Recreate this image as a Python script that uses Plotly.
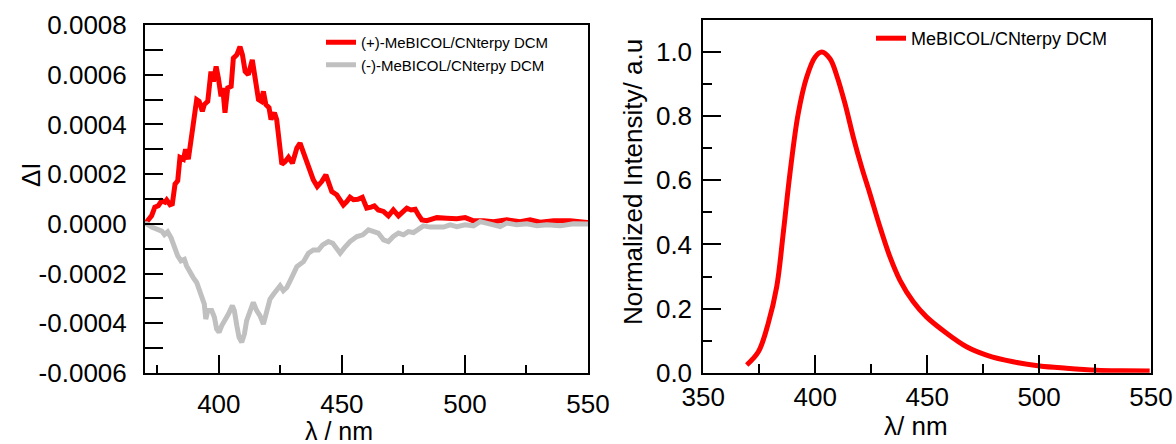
import plotly.graph_objects as go

# ---------------- data ----------------
# Left: CPL (Delta I) spectra, wavelength in nm, values in units of 1e-4
cpl_plus_wl = [370.0, 370.7, 372.7, 374.0, 375.4, 376.8, 378.1, 378.8, 380.2, 381.1, 382.2, 383.3,
               384.2, 385.6, 386.5, 387.6, 388.3, 389.6, 391.0, 392.0, 393.3, 394.1, 395.5, 396.8,
               397.8, 398.9, 399.8, 400.9, 401.6, 402.5, 403.6, 405.0, 405.9, 407.3, 408.6, 409.6,
               410.7, 412.0, 413.6, 414.7, 416.1, 417.2, 418.1, 419.1, 420.4, 421.2, 422.6, 423.5,
               424.5, 425.6, 426.9, 428.3, 429.9, 431.7, 433.0, 434.4, 435.7, 437.1, 438.4, 440.0,
               441.8, 443.5, 444.8, 445.9, 447.9, 449.3, 450.6, 452.0, 453.3, 454.7, 456.5, 458.3,
               460.1, 461.9, 463.2, 464.8, 466.9, 468.9, 470.9, 473.0, 474.6, 476.4, 478.1, 479.8,
               481.1, 482.5, 484.5, 486.6, 488.6, 492.6, 496.7, 500.1, 503.5, 507.5, 511.6, 517.0,
               522.4, 526.5, 530.6, 536.0, 542.8, 549.6, 550.0]
cpl_plus_e4 = [0.00, 0.07, 0.33, 0.67, 0.73, 0.93, 0.87, 0.96, 0.77, 0.80, 1.60, 1.73,
               2.67, 2.60, 3.00, 2.60, 3.20, 4.00, 5.00, 4.93, 4.53, 4.80, 4.93, 6.13,
               5.73, 6.33, 5.87, 5.13, 5.47, 4.47, 5.47, 5.53, 6.67, 6.80, 7.13, 6.80,
               6.13, 6.00, 6.60, 5.87, 5.00, 4.93, 5.33, 4.80, 4.67, 4.20, 4.47, 4.20,
               3.33, 2.40, 2.50, 2.68, 2.44, 3.05, 3.25, 2.84, 2.51, 2.17, 1.77, 1.50,
               1.70, 1.97, 1.64, 1.30, 1.17, 0.97, 0.76, 0.90, 1.07, 0.97, 0.99, 1.07,
               0.63, 0.67, 0.72, 0.56, 0.50, 0.32, 0.56, 0.32, 0.45, 0.63, 0.56, 0.59,
               0.36, 0.16, 0.13, 0.19, 0.25, 0.23, 0.21, 0.25, 0.12, 0.13, 0.09, 0.16,
               0.09, 0.16, 0.07, 0.12, 0.12, 0.05, 0.05]

cpl_minus_wl = [370.0, 370.7, 372.7, 374.7, 376.8, 377.9, 379.2, 380.6, 381.9, 383.3, 384.6, 386.0,
                386.9, 388.3, 389.6, 391.0, 392.0, 393.0, 394.1, 394.7, 395.5, 397.1, 398.2, 399.1,
                400.1, 401.2, 402.5, 403.9, 405.5, 406.3, 407.3, 408.2, 409.3, 410.4, 411.3, 412.7,
                414.0, 415.4, 416.7, 418.1, 419.5, 420.8, 422.2, 423.5, 424.9, 426.2, 427.6, 428.9,
                430.3, 431.7, 434.4, 436.4, 438.4, 440.5, 442.2, 444.5, 446.3, 448.2, 449.3, 450.9,
                453.3, 456.1, 458.5, 460.8, 462.8, 464.8, 466.9, 468.9, 470.9, 473.0, 475.0, 477.0,
                479.1, 481.1, 483.1, 485.8, 488.6, 491.3, 494.0, 496.7, 500.1, 503.5, 506.2, 508.9,
                511.6, 514.3, 517.0, 521.1, 525.2, 529.3, 533.3, 538.7, 544.1, 549.6, 550.0]
cpl_minus_e4 = [0.00, 0.00, -0.13, -0.23, -0.29, -0.43, -0.32, -0.56, -0.96, -1.29, -1.49, -1.43,
                -1.69, -1.96, -2.16, -2.36, -2.63, -2.83, -3.23, -3.83, -3.49, -3.49, -3.76, -4.23,
                -4.36, -4.09, -3.89, -3.63, -3.29, -3.49, -4.09, -4.56, -4.76, -4.43, -3.89, -3.56,
                -3.16, -3.49, -3.69, -4.03, -3.56, -3.03, -2.83, -2.63, -2.49, -2.69, -2.56, -2.30,
                -2.05, -1.72, -1.52, -1.18, -1.05, -1.05, -0.85, -0.71, -0.78, -1.05, -1.18, -0.98,
                -0.71, -0.51, -0.44, -0.24, -0.31, -0.37, -0.64, -0.71, -0.51, -0.37, -0.44, -0.31,
                -0.35, -0.24, -0.08, -0.13, -0.11, -0.13, -0.04, -0.11, -0.04, -0.08, 0.09, 0.00,
                -0.04, -0.11, 0.03, -0.04, 0.00, -0.08, -0.04, -0.08, 0.00, -0.01, -0.01]

# Right: normalized emission spectrum
pl_wl = [369.4, 374.6, 379.0, 382.8, 385.7, 388.7, 392.4, 396.2, 399.9, 402.9, 406.6, 409.6,
         413.3, 417.0, 420.7, 424.4, 428.9, 433.4, 437.8, 443.8, 449.7, 458.7, 467.6, 476.5,
         488.4, 500.3, 512.2, 525.6, 537.5, 549.4]
pl_int = [0.024, 0.065, 0.154, 0.268, 0.434, 0.621, 0.808, 0.922, 0.984, 1.000, 0.979, 0.927,
          0.839, 0.735, 0.642, 0.559, 0.455, 0.361, 0.289, 0.221, 0.174, 0.123, 0.081, 0.055,
          0.034, 0.021, 0.014, 0.008, 0.006, 0.005]

left_ytick_vals = [-0.0006, -0.0005, -0.0004, -0.0003, -0.0002, -0.0001, 0.0, 0.0001, 0.0002,
                   0.0003, 0.0004, 0.0005, 0.0006, 0.0007, 0.0008]
left_ytick_text = ["-0.0006", "", "-0.0004", "", "-0.0002", "", "0.0000", "", "0.0002", "",
                   "0.0004", "", "0.0006", "", "0.0008"]

plus_name = "(+)-MeBICOL/CNterpy DCM"
minus_name = "(-)-MeBICOL/CNterpy DCM"
pl_name = "MeBICOL/CNterpy DCM"

# ---------------- figure ----------------
W, H = 1176, 444
FONT = "Liberation Sans, Arial, sans-serif"
RED = "#ff0000"
GRAY = "#c0c0c0"

fig = go.Figure()
fig.add_trace(go.Scatter(x=cpl_plus_wl, y=[v * 1e-4 for v in cpl_plus_e4], mode="lines",
                         name=plus_name, line=dict(color=RED, width=5),
                         xaxis="x", yaxis="y", legend="legend"))
fig.add_trace(go.Scatter(x=cpl_minus_wl, y=[v * 1e-4 for v in cpl_minus_e4], mode="lines",
                         name=minus_name, line=dict(color=GRAY, width=5),
                         xaxis="x", yaxis="y", legend="legend"))
fig.add_trace(go.Scatter(x=pl_wl, y=pl_int, mode="lines", name=pl_name,
                         line=dict(color=RED, width=5, shape="spline"),
                         xaxis="x2", yaxis="y2", legend="legend2"))

axis_common = dict(showline=True, linecolor="black", linewidth=2, mirror=True,
                   ticks="inside", tickcolor="black", tickwidth=2, showgrid=False,
                   zeroline=False, automargin=False,
                   tickfont=dict(family=FONT, size=26, color="black"))

L_x0, L_x1 = 145 / W, 588 / W
L_y0, L_y1 = 1 - 373 / H, 1 - 25 / H
R_x0, R_x1 = 703.3 / W, 1151 / W
R_y0, R_y1 = 1 - 372.7 / H, 1 - 20 / H

fig.update_layout(
    width=W, height=H,
    margin=dict(l=0, r=0, t=0, b=0),
    paper_bgcolor="white", plot_bgcolor="white",
    template="none",
    font=dict(family=FONT, color="black"),
    xaxis=dict(domain=[L_x0, L_x1], range=[370, 550], anchor="y",
               tickvals=[400, 450, 500, 550], ticklen=18, ticklabelstandoff=7,
               minor=dict(tickvals=[375, 425, 475, 525], ticks="inside", ticklen=8,
                          tickwidth=2, tickcolor="black", showgrid=False),
               **axis_common),
    yaxis=dict(domain=[L_y0, L_y1], range=[-0.0006, 0.0008], anchor="x",
               tickvals=left_ytick_vals, ticktext=left_ytick_text, ticklen=18,
               ticklabelstandoff=11, **axis_common),
    xaxis2=dict(domain=[R_x0, R_x1], range=[350, 550], anchor="y2",
                tickvals=[350, 400, 450, 500, 550], ticklen=18, ticklabelstandoff=0,
                minor=dict(tickvals=[375, 425, 475, 525], ticks="inside", ticklen=9,
                           tickwidth=2, tickcolor="black", showgrid=False),
                **axis_common),
    yaxis2=dict(domain=[R_y0, R_y1], range=[0, 1.1], anchor="x2",
                tickvals=[0, 0.2, 0.4, 0.6, 0.8, 1.0], ticktext=["0.0", "0.2", "0.4", "0.6", "0.8", "1.0"],
                ticklen=18, ticklabelstandoff=4,
                minor=dict(tickvals=[0.1, 0.3, 0.5, 0.7, 0.9], ticks="inside", ticklen=9,
                           tickwidth=2, tickcolor="black", showgrid=False),
                **axis_common),
    legend=dict(x=321 / W, y=1 - 26 / H, xanchor="left", yanchor="top",
                bgcolor="rgba(0,0,0,0)", borderwidth=0,
                font=dict(family=FONT, size=15, color="black"), tracegroupgap=0),
    legend2=dict(x=871 / W, y=1 - 20 / H, xanchor="left", yanchor="top",
                 bgcolor="rgba(0,0,0,0)", borderwidth=0,
                 font=dict(family=FONT, size=18, color="black")),
    showlegend=True,
)

annos = [
    dict(text="λ / nm", x=339 / W, y=1 - 431 / H, font=dict(size=25)),
    dict(text="ΔI", x=31 / W, y=1 - 175 / H, font=dict(size=26), textangle=-90),
    dict(text="λ/ nm", x=916 / W, y=1 - 426 / H, font=dict(size=26)),
    dict(text="Normalized Intensity/ a.u", x=633 / W, y=1 - 182 / H, font=dict(size=26),
         textangle=-90),
]
for a in annos:
    a.update(xref="paper", yref="paper", showarrow=False, xanchor="center", yanchor="middle")
    a["font"].update(family=FONT, color="black")
fig.update_layout(annotations=annos)

fig.write_html("out.html", config={"displayModeBar": False},
               post_script="document.body.style.margin='0';document.body.style.padding='0';")
